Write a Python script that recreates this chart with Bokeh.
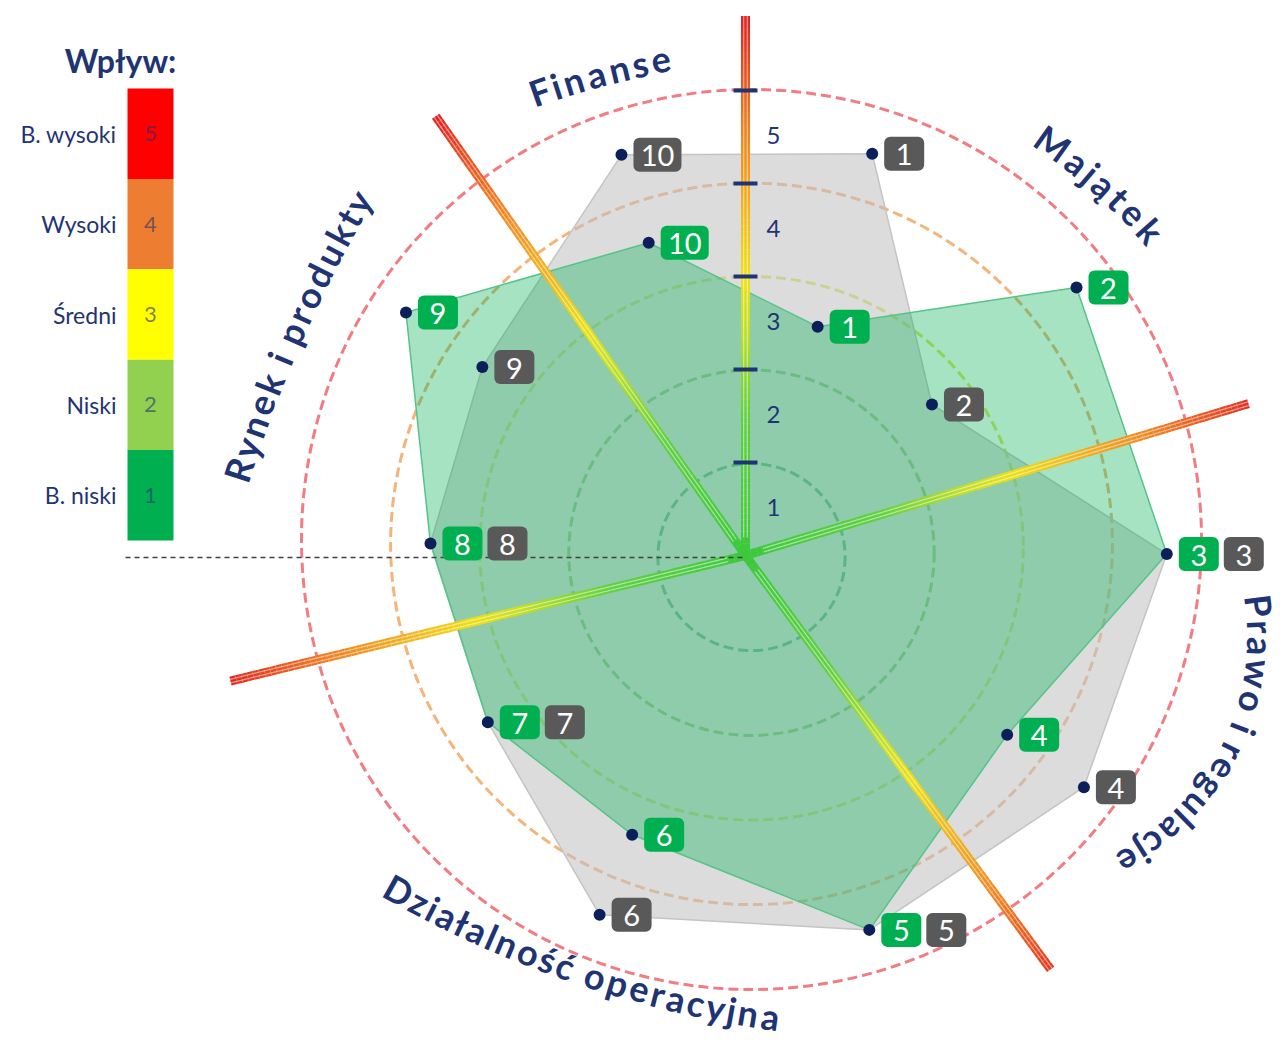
import math
import numpy as np
from bokeh.plotting import figure
from bokeh.embed import file_html
from bokeh.resources import INLINE
from bokeh.core.properties import value

# ---------------- data ----------------
risk_ids = ["1", "2", "3", "4", "5", "6", "7", "8", "9", "10"]
risk_angle_deg = [72.5, 39.0, 0.2, -34.4, -71.7, -112.1, -147.1, 177.8, 144.4, 107.2]
prev_scores = [4.53, 2.58, 4.53, 4.41, 4.24, 4.17, 3.30, 3.39, 3.48, 4.51]   # grey series
curr_scores = [2.58, 4.58, 4.53, 3.41, 4.24, 3.24, 3.30, 3.39, 4.49, 3.52]   # green series
impact_levels = [5, 4, 3, 2, 1]
impact_names = ["B. wysoki", "Wysoki", "Średni", "Niski", "B. niski"]
impact_colors = ["#ff0000", "#ed7d31", "#ffff00", "#92d050", "#00b050"]
scale_ticks = [1, 2, 3, 4, 5]
categories = ["Finanse", "Majątek", "Prawo i regulacje", "Działalność operacyjna", "Rynek i produkty"]
divider_angles_deg = [90.0, 16.8, -53.6, 193.7, 125.2]

# ---------------- layout ----------------
W, H = 1284, 1043
CX, CY = 745.0, 488.0
U = 93.0
NAVY = "#1f3473"
FONT = value("Lato")

divider_len = [5.8, 5.65, 5.53, 5.7, 5.78]
ring_colors = {5: "#f27c82", 4: "#f4b47a", 3: "#dce65a", 2: "#86c86a", 1: "#4caf7a"}

# category label arcs: (angle deg, radius units) for first char, a middle point, last char
label_arcs = {
    "Finanse": [(113.9, 5.46), (106.8, 5.42), (99.7, 5.41)],
    "Majątek": [(53.3, 5.53), (46.0, 5.55), (38.7, 5.58)],
    "Prawo i regulacje": [(-5.6, 5.55), (-18.5, 5.68), (-38.6, 5.27)],
    "Działalność operacyjna": [(-136.0, 5.18), (-110.7, 4.8), (-86.9, 4.96)],
    "Rynek i produkty": [(170.4, 5.53), (157.4, 5.44), (137.6, 5.65)],
}

p = figure(width=W, height=H, x_range=(0, W), y_range=(0, H),
           x_axis_location=None, y_axis_location=None,
           toolbar_location=None, output_backend="svg", min_border=0)
p.grid.visible = False
p.outline_line_color = None
p.background_fill_color = "white"
p.border_fill_color = "white"


def polar(a_deg, r):
    a = np.radians(a_deg)
    return CX + U * np.asarray(r) * np.cos(a), CY + U * np.asarray(r) * np.sin(a)


# ---------------- rings ----------------
for k in scale_ticks:
    p.circle(x=[751.0], y=[482.0 + 4.4 * k], radius=4.5 + 89.1 * k,
             fill_color=None, line_color=ring_colors[k], line_width=3,
             line_dash="10 5")

# ---------------- polygons ----------------
px, py = polar(np.array(risk_angle_deg), prev_scores)
cx_, cy_ = polar(np.array(risk_angle_deg), curr_scores)
p.patch(list(px), list(py), fill_color="#bfbfbf", fill_alpha=0.55,
        line_color="#c4c4c4", line_width=1.5)
p.patch(list(cx_), list(cy_), fill_color="#00b050", fill_alpha=0.35,
        line_color="#55c488", line_width=1.5)

# ---------------- divider rays (gradient) ----------------
stops_r = [0.0, 1.5, 2.5, 3.0, 3.8, 4.6, 5.2, 5.8]
stops_c = [(60, 200, 60), (96, 208, 64), (200, 224, 32), (240, 224, 16),
           (240, 176, 32), (240, 128, 32), (232, 80, 32), (224, 32, 32)]


def grad_color(r):
    r = min(max(r, stops_r[0]), stops_r[-1])
    for i in range(len(stops_r) - 1):
        if stops_r[i] <= r <= stops_r[i + 1]:
            t = (r - stops_r[i]) / (stops_r[i + 1] - stops_r[i])
            c = [int(round(stops_c[i][j] + t * (stops_c[i + 1][j] - stops_c[i][j]))) for j in range(3)]
            return "#%02x%02x%02x" % tuple(c)
    return "#e02020"


for a_deg, L in zip(divider_angles_deg, divider_len):
    n = 90
    ts = np.linspace(0, L, n + 1)
    a = math.radians(a_deg)
    x0 = CX + U * ts[:-1] * math.cos(a)
    y0 = CY + U * ts[:-1] * math.sin(a)
    x1 = CX + U * ts[1:] * math.cos(a)
    y1 = CY + U * ts[1:] * math.sin(a)
    cols = [grad_color((ts[i] + ts[i + 1]) / 2) for i in range(n)]
    p.segment(x0=list(x0), y0=list(y0), x1=list(x1), y1=list(y1),
              line_color=cols, line_width=9, line_cap="butt")
    nx, ny = -math.sin(a), math.cos(a)
    for off in (-1.8, 1.8):
        p.line([CX + off * nx + U * 0.2 * math.cos(a), CX + off * nx + U * L * math.cos(a)],
               [CY + off * ny + U * 0.2 * math.sin(a), CY + off * ny + U * L * math.sin(a)],
               line_color="white", line_alpha=0.5, line_width=1.2)

# ---------------- ticks & scale numbers ----------------
ty = [CY + U * k for k in scale_ticks]
p.segment(x0=[CX - 12] * 5, y0=ty, x1=[CX + 12] * 5, y1=ty, line_color=NAVY, line_width=4)
p.text(x=[CX + 28] * 5, y=[CY + U * (k - 0.5) + 2 for k in scale_ticks],
       text=[str(k) for k in scale_ticks], text_align="center", text_baseline="middle",
       text_font=FONT, text_font_size="24px", text_color=NAVY)

# ---------------- legend ----------------
bar_left, bar_right = 127, 173
seg_h = 90.4
bar_top = H - 88
tops = [bar_top - i * seg_h for i in range(5)]
bottoms = [t - seg_h for t in tops]
p.quad(left=[bar_left] * 5, right=[bar_right] * 5, top=tops, bottom=bottoms,
       fill_color=impact_colors, line_color=None)
mids = [(t + b) / 2 for t, b in zip(tops, bottoms)]
p.text(x=[(bar_left + bar_right) / 2] * 5, y=mids, text=[str(v) for v in impact_levels],
       text_align="center", text_baseline="middle", text_font=FONT, text_font_size="22px",
       text_color=NAVY, text_alpha=0.6)
p.text(x=[116] * 5, y=mids, text=impact_names, text_align="right", text_baseline="middle",
       text_font=FONT, text_font_size="23px", text_color=NAVY)
p.text(x=[120], y=[H - 60], text=["Wpływ:"], text_align="center", text_baseline="middle",
       text_font=FONT, text_font_style="bold", text_font_size="32px", text_color=NAVY)

# dashed reference line from legend to centre
p.line([bar_left - 2, CX], [H - 557, H - 557], line_color="#404040", line_width=1.4,
       line_dash="5 4")

# ---------------- dots and labels ----------------
BOX_H = 34
GAP = 12


def box_w(t):
    return 48 if len(t) > 1 else 40


gl, gr, gt, gb, gx, gy, gtxt = [], [], [], [], [], [], []   # grey boxes
nl, nr, nt, nb, nx_, ny_, ntxt = [], [], [], [], [], [], []  # green boxes
dot_x, dot_y = [], []
for i, rid in enumerate(risk_ids):
    w = box_w(rid)
    shared = abs(prev_scores[i] - curr_scores[i]) < 1e-9
    xg, yg = cx_[i], cy_[i]
    dot_x.append(xg); dot_y.append(yg)
    left = xg + GAP
    nl.append(left); nr.append(left + w); nt.append(yg + BOX_H / 2); nb.append(yg - BOX_H / 2)
    nx_.append(left + w / 2); ny_.append(yg); ntxt.append(rid)
    xp, yp = px[i], py[i]
    if shared:
        left = left + w + 5
    else:
        dot_x.append(xp); dot_y.append(yp)
        left = xp + GAP
    gl.append(left); gr.append(left + w); gt.append(yp + BOX_H / 2); gb.append(yp - BOX_H / 2)
    gx.append(left + w / 2); gy.append(yp); gtxt.append(rid)

p.scatter(dot_x, dot_y, size=12, marker="circle", fill_color="#0b1f5a", line_color=None)
p.quad(left=nl, right=nr, top=nt, bottom=nb, fill_color="#00b050", line_color=None,
       border_radius=6)
p.quad(left=gl, right=gr, top=gt, bottom=gb, fill_color="#595959", line_color=None,
       border_radius=6)
p.text(x=nx_, y=[v - 1 for v in ny_], text=ntxt, text_align="center", text_baseline="middle",
       text_font=FONT, text_font_size="29px", text_color="white")
p.text(x=gx, y=[v - 1 for v in gy], text=gtxt, text_align="center", text_baseline="middle",
       text_font=FONT, text_font_size="29px", text_color="white")

# ---------------- curved category labels ----------------
CW = {'F': 0.55, 'i': 0.26, 'n': 0.58, 'a': 0.53, 's': 0.44, 'e': 0.55, 'M': 0.86,
      'j': 0.26, 'ą': 0.53, 't': 0.38, 'k': 0.55, 'P': 0.6, 'r': 0.4, 'w': 0.8,
      'o': 0.58, ' ': 0.26, 'g': 0.53, 'u': 0.58, 'l': 0.26, 'c': 0.48, 'D': 0.72,
      'z': 0.47, 'ł': 0.3, 'ś': 0.44, 'ć': 0.48, 'p': 0.58, 'y': 0.53, 'R': 0.62,
      'd': 0.58}


def fit_circle(p1, p2, p3):
    (x1, y1), (x2, y2), (x3, y3) = p1, p2, p3
    d = 2 * (x1 * (y2 - y3) + x2 * (y3 - y1) + x3 * (y1 - y2))
    ux = ((x1**2 + y1**2) * (y2 - y3) + (x2**2 + y2**2) * (y3 - y1) + (x3**2 + y3**2) * (y1 - y2)) / d
    uy = ((x1**2 + y1**2) * (x3 - x2) + (x2**2 + y2**2) * (x1 - x3) + (x3**2 + y3**2) * (x2 - x1)) / d
    return ux, uy, math.hypot(x1 - ux, y1 - uy)


def wrap(a):
    while a <= -math.pi:
        a += 2 * math.pi
    while a > math.pi:
        a -= 2 * math.pi
    return a


lx, ly, lt, la = [], [], [], []
for name in categories:
    pts_polar = label_arcs[name]
    pts = [tuple(float(v) for v in polar(a, r)) for a, r in pts_polar]
    ox, oy, R = fit_circle(*pts)
    a0 = math.atan2(pts[0][1] - oy, pts[0][0] - ox)
    a1 = math.atan2(pts[2][1] - oy, pts[2][0] - ox)
    d = wrap(a1 - a0)
    sgn = 1.0 if d > 0 else -1.0
    widths = [CW.get(ch, 0.55) for ch in name]
    centers = np.cumsum(widths) - np.array(widths) / 2
    tnorm = (centers - centers[0]) / (centers[-1] - centers[0])
    for ch, t in zip(name, tnorm):
        if ch == " ":
            continue
        ang = a0 + t * d
        lx.append(ox + R * math.cos(ang))
        ly.append(oy + R * math.sin(ang))
        lt.append(ch)
        tx, tyy = -math.sin(ang) * sgn, math.cos(ang) * sgn
        la.append(math.atan2(tyy, tx))

p.text(x=lx, y=ly, text=lt, angle=la, text_align="center", text_baseline="middle",
       text_font=FONT, text_font_style="bold", text_font_size="36px", text_color=NAVY)

open("out.html", "w").write(file_html(p, INLINE))
